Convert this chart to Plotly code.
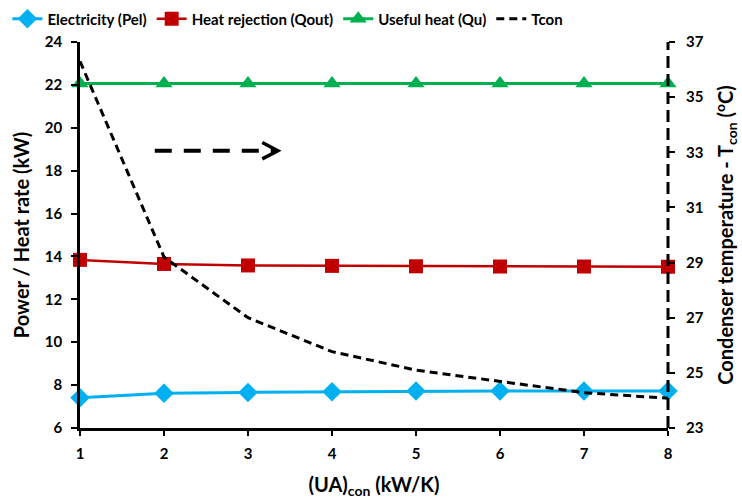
import plotly.graph_objects as go

ua = [1, 2, 3, 4, 5, 6, 7, 8]
p_el = [7.41, 7.62, 7.66, 7.69, 7.72, 7.73, 7.73, 7.73]
q_out = [13.84, 13.65, 13.58, 13.56, 13.54, 13.53, 13.53, 13.52]
q_u = [22.06, 22.06, 22.06, 22.06, 22.06, 22.06, 22.06, 22.06]
t_con = [36.3, 29.2, 27.0, 25.77, 25.1, 24.68, 24.28, 24.08]

left_ticks = [6, 8, 10, 12, 14, 16, 18, 20, 22, 24]
right_ticks = [23, 25, 27, 29, 31, 33, 35, 37]

FONT = "Lato"
fig = go.Figure()
fig.add_trace(go.Scatter(x=ua, y=p_el, name="Electricity (Pel)", mode="lines+markers",
                         line=dict(color="#00B0F0", width=3),
                         marker=dict(symbol="diamond", size=15, color="#00B0F0"),
                         cliponaxis=False))
fig.add_trace(go.Scatter(x=ua, y=q_out, name="Heat rejection (Qout)", mode="lines+markers",
                         line=dict(color="#C00000", width=2.5),
                         marker=dict(symbol="square", size=14, color="#C00000"),
                         cliponaxis=False))
fig.add_trace(go.Scatter(x=ua, y=q_u, name="Useful heat (Qu)", mode="lines+markers",
                         line=dict(color="#00B050", width=3),
                         marker=dict(symbol="triangle-up", size=15, color="#00B050"),
                         cliponaxis=False))
fig.add_trace(go.Scatter(x=ua, y=t_con, name="Tcon", mode="lines", yaxis="y2",
                         line=dict(color="black", width=3, dash="8px,5px"),
                         cliponaxis=False))

# decorative arrow (dashed line + open chevron), in data coordinates
arrow_x0, arrow_x1, arrow_y = 1.89, 3.33, 18.93
chev_x0, chev_dy = 3.17, 0.38
fig.add_shape(type="line", xref="x", yref="y", x0=arrow_x0, x1=arrow_x1, y0=arrow_y, y1=arrow_y,
              line=dict(color="black", width=4, dash="17px,12px"))
fig.add_shape(type="path", xref="x", yref="y",
              path=f"M {chev_x0},{arrow_y + chev_dy} L {arrow_x1 + 0.025},{arrow_y} L {chev_x0},{arrow_y - chev_dy}",
              line=dict(color="black", width=3.5))
# dashed secondary axis line
fig.add_shape(type="line", xref="paper", yref="paper", x0=1, x1=1, y0=0, y1=1,
              line=dict(color="black", width=3, dash="12px,6px"))

fig.update_layout(
    width=742, height=504,
    margin=dict(l=80, r=74, t=42, b=76, autoexpand=False),
    paper_bgcolor="white", plot_bgcolor="white",
    font=dict(family=FONT, color="black"),
    showlegend=True,
    legend=dict(orientation="h", xref="container", yref="container", x=0.01, y=0.995,
                xanchor="left", yanchor="top", font=dict(size=15, family=FONT, weight="bold"),
                itemwidth=30, tracegroupgap=0),
    xaxis=dict(range=[1, 8], tickvals=ua, showline=True, linecolor="black", linewidth=2.5,
               ticks="outside", ticklen=5, tickwidth=2, tickcolor="black",
               showgrid=False, zeroline=False, ticklabelstandoff=5, automargin=False,
               tickfont=dict(size=15, family=FONT, weight="bold"),
               title=dict(text="(UA)<sub>con</sub> (kW/K)", font=dict(size=20, family=FONT, weight="bold"),
                          standoff=18)),
    yaxis=dict(range=[6, 24], tickvals=left_ticks, showline=True, linecolor="black", linewidth=2.5,
               ticks="outside", ticklen=6, tickwidth=2, tickcolor="black",
               showgrid=False, zeroline=False, ticklabelstandoff=6, automargin=False,
               tickfont=dict(size=15, family=FONT, weight="bold"),
               title=dict(text="Power / Heat rate (kW)", font=dict(size=20, family=FONT, weight="bold"),
                          standoff=10)),
    yaxis2=dict(range=[23, 37], tickvals=right_ticks, overlaying="y", side="right",
                showline=False, ticks="outside", ticklen=6, tickwidth=2, tickcolor="black",
                showgrid=False, zeroline=False, ticklabelstandoff=8, automargin=False,
                tickfont=dict(size=15, family=FONT, weight="bold"),
                title=dict(text="Condenser temperature - T<sub>con</sub> (<sup>o</sup>C)",
                           font=dict(size=20, family=FONT, weight="bold"), standoff=16)),
)

fig.write_html("out.html")
